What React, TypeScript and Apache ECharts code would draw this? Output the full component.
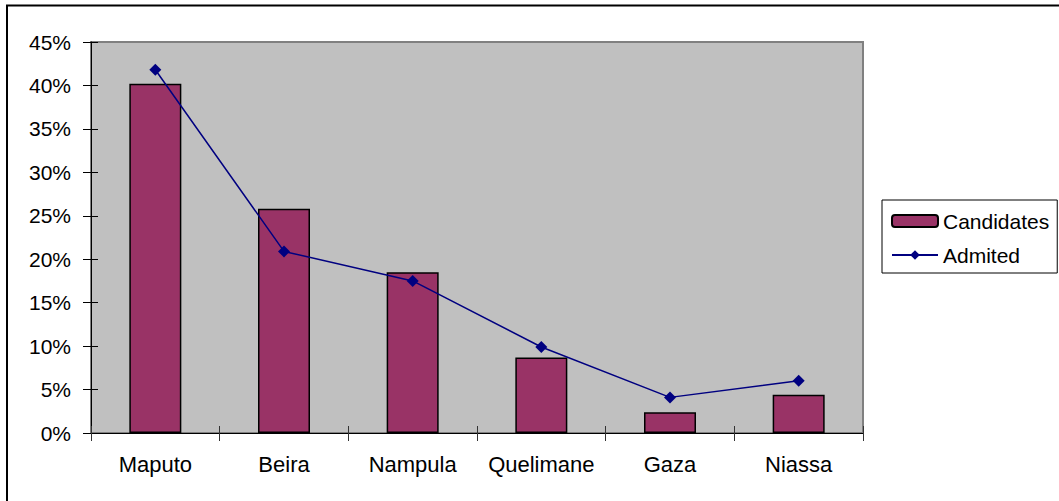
import React, { useEffect, useRef } from "react";
import * as echarts from "echarts";

const categories = ["Maputo", "Beira", "Nampula", "Quelimane", "Gaza", "Niassa"];
const candidates = [0.402, 0.258, 0.185, 0.087, 0.024, 0.044];
const admited = [0.418, 0.209, 0.175, 0.099, 0.041, 0.060];
const yTicks = { min: 0, max: 0.45, interval: 0.05 };

const FONT = "'Liberation Sans', Arial, sans-serif";

export default function App() {
  const ref = useRef<HTMLDivElement>(null);
  useEffect(() => {
    if (!ref.current) return;
    const chart = echarts.init(ref.current, undefined, { renderer: "svg" });
    const pct = (v: number) => Math.round(v * 100) + "%";
    chart.setOption({
      animation: false,
      backgroundColor: "#ffffff",
      textStyle: { fontFamily: FONT, color: "#000" },
      grid: {
        left: 91,
        top: 42,
        width: 772,
        height: 391,
        show: true,
        backgroundColor: "#C0C0C0",
        borderColor: "#808080",
        borderWidth: 2,
      },
      graphic: [
        {
          type: "rect",
          shape: { x: 7, y: 5.5, width: 1070, height: 520 },
          style: { fill: "none", stroke: "#000", lineWidth: 2 },
          silent: true,
          z: 100,
        },
      ],
      legend: {
        orient: "vertical",
        left: 882,
        top: 200,
        padding: [9, 8, 6, 9],
        itemWidth: 46,
        itemHeight: 12,
        itemGap: 10,
        borderColor: "#000",
        borderWidth: 1,
        backgroundColor: "#fff",
        borderRadius: 0,
        textStyle: { fontFamily: FONT, fontSize: 21, color: "#000", lineHeight: 24 },
        data: ["Candidates", "Admited"],
      },
      xAxis: [
        {
          type: "category",
          data: categories,
          boundaryGap: true,
          axisLine: { show: true, lineStyle: { color: "#000", width: 1 } },
          axisTick: { show: true, interval: 0, length: 8, lineStyle: { color: "#333" } },
          axisLabel: { interval: 0, fontFamily: FONT, fontSize: 22, color: "#000", margin: 20 },
          splitLine: { show: false },
        },
        {
          type: "category",
          data: categories,
          position: "bottom",
          boundaryGap: true,
          axisLine: { show: false },
          axisTick: { show: true, interval: 0, inside: true, length: 7, lineStyle: { color: "#333" } },
          axisLabel: { show: false, interval: 0 },
          splitLine: { show: false },
        },
      ],
      yAxis: [
        {
          type: "value",
          ...yTicks,
          position: "left",
          axisLine: { show: true, lineStyle: { color: "#000", width: 1 } },
          axisTick: { show: true, length: 8, lineStyle: { color: "#000" } },
          axisLabel: { fontFamily: FONT, fontSize: 21, color: "#000", margin: 20, formatter: pct },
          splitLine: { show: false },
        },
        {
          type: "value",
          ...yTicks,
          position: "left",
          offset: 0,
          axisLine: { show: false },
          axisTick: { show: true, inside: true, length: 7, lineStyle: { color: "#000" } },
          axisLabel: { show: false },
          splitLine: { show: false },
        },
      ],
      series: [
        {
          name: "Candidates",
          type: "bar",
          data: candidates,
          barWidth: 52,
          itemStyle: { color: "#993366", borderColor: "#000", borderWidth: 1.5 },
          z: 2,
        },
        {
          name: "Admited",
          type: "line",
          data: admited,
          symbol: "diamond",
          symbolSize: 12,
          lineStyle: { color: "#000080", width: 1.5 },
          itemStyle: { color: "#000080" },
          z: 3,
        },
      ],
    });
    return () => chart.dispose();
  }, []);
  return (
    <div
      ref={ref}
      style={{ position: "fixed", left: 0, top: 0, width: 1059, height: 501 }}
    />
  );
}
